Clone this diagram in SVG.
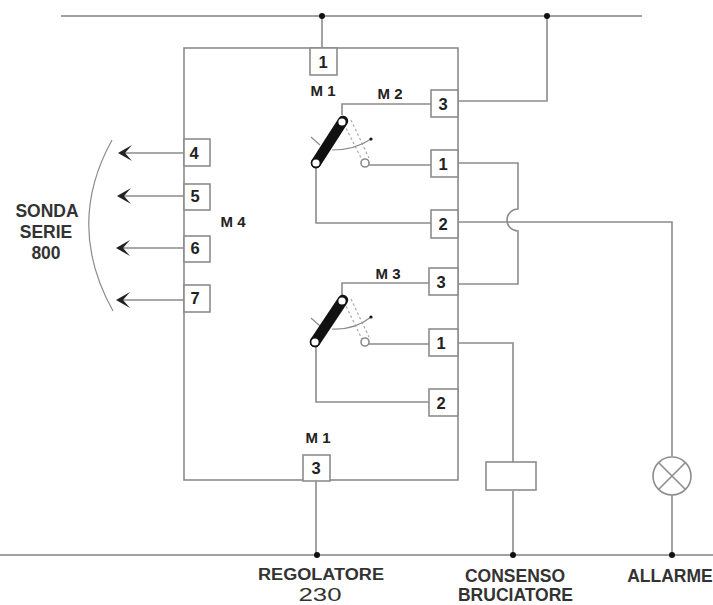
<svg xmlns="http://www.w3.org/2000/svg" width="713" height="605" viewBox="0 0 713 605">
<style>
.w{fill:none;stroke:#8c8c8c;stroke-width:1.6}
.bus{fill:none;stroke:#a0a0a0;stroke-width:2.2}
.thin{fill:none;stroke:#8c8c8c;stroke-width:1.2}
.b{fill:#fff;stroke:#8c8c8c;stroke-width:1.6}
.t{font-family:"Liberation Sans",Arial,sans-serif;font-weight:bold;font-size:17.5px;fill:#333;text-anchor:middle}
.m{font-family:"Liberation Sans",Arial,sans-serif;font-weight:bold;font-size:15px;fill:#222;text-anchor:middle}
.n{font-family:"Liberation Sans",Arial,sans-serif;font-weight:bold;font-size:16.5px;fill:#222;text-anchor:middle}
.d{fill:#111}
.a{fill:#222}
.bar{stroke:#111;stroke-width:10.5;stroke-linecap:round}
.ring{fill:#fff;stroke:#111;stroke-width:1.6}
.hole{fill:#fff}
.da{fill:none;stroke:#aaa;stroke-width:1.2;stroke-dasharray:2.5 2.5}
</style>
<rect width="713" height="605" fill="#fff"/>
<g id="connectors">
<path class="bus" d="M61 16H642M0 555H713"/>
<path class="w" d="M322 16V48M547 16V101H458"/>
<path class="w" d="M342 115V104H431"/>
<path class="w" d="M368 165H431M316 167V223H431"/>
<path class="w" d="M342 296V283H431M368 344H431M316 346V402H431"/>
<path class="w" d="M458 163H518V209A11 11 0 0 0 518 231V284H458"/>
<path class="w" d="M458 222H672V456M672 495V555"/>
<path class="w" d="M458 343H513V462M513 491V555"/>
<path class="w" d="M316 480V555"/>
<path class="w" d="M184 153H122M184 196H121M184 248H120M184 300H120"/>
<path class="a" d="M118 153L132 145L125 153L132 161ZM117 196L131 188L124 196L131 204ZM116 248L130 240L123 248L130 256ZM116 300L130 292L123 300L130 308Z"/>
<path class="thin" d="M112 140Q65 225 113 311"/>
<circle class="d" cx="322" cy="16" r="3"/><circle class="d" cx="547" cy="16" r="3"/>
<circle class="d" cx="317" cy="555" r="3"/><circle class="d" cx="513" cy="555" r="3"/><circle class="d" cx="672" cy="555" r="3"/>
</g>
<g id="housing"><rect class="w" x="184" y="48" width="274" height="432"/></g>
<g id="m1-switch">
<path class="da" d="M344 124L362 160M351 120L369 158"/>
<path class="thin" d="M311 137L320 145M332 150Q355 150 371 139"/>
<circle class="d" cx="371" cy="139" r="1.6"/>
<path class="bar" d="M343 121L316 163"/>
<circle class="hole" cx="342" cy="122" r="3.6"/><circle class="ring" cx="316" cy="163" r="4.4"/>
<circle class="b" cx="365" cy="163" r="4"/>
</g>
<g id="m3-switch">
<path class="da" d="M344 302L362 339M351 299L369 337"/>
<path class="thin" d="M311 318L320 326M332 329Q355 330 371 317"/>
<circle class="d" cx="371" cy="317" r="1.6"/>
<path class="bar" d="M343 300L315 342"/>
<circle class="hole" cx="342" cy="301" r="3.6"/><circle class="ring" cx="315" cy="342" r="4.4"/>
<circle class="b" cx="365" cy="342" r="4"/>
</g>
<g id="t-top1"><rect class="b" x="310" y="48" width="27" height="27"/><text class="n" x="323" y="68">1</text></g>
<g id="t-m2-3"><rect class="b" x="431" y="90" width="27" height="27"/><text class="n" x="443" y="110">3</text></g>
<g id="t-m2-1"><rect class="b" x="431" y="150" width="27" height="27"/><text class="n" x="443" y="170">1</text></g>
<g id="t-m2-2"><rect class="b" x="431" y="210" width="27" height="28"/><text class="n" x="443" y="230">2</text></g>
<g id="t-m3-3"><rect class="b" x="429" y="268" width="29" height="27"/><text class="n" x="441" y="288">3</text></g>
<g id="t-m3-1"><rect class="b" x="429" y="329" width="29" height="27"/><text class="n" x="441" y="349">1</text></g>
<g id="t-m3-2"><rect class="b" x="429" y="389" width="29" height="27"/><text class="n" x="441" y="409">2</text></g>
<g id="t-4"><rect class="b" x="184" y="139" width="26" height="27"/><text class="n" x="194" y="159">4</text></g>
<g id="t-5"><rect class="b" x="184" y="184" width="26" height="26"/><text class="n" x="195" y="202">5</text></g>
<g id="t-6"><rect class="b" x="184" y="236" width="26" height="26"/><text class="n" x="195" y="254">6</text></g>
<g id="t-7"><rect class="b" x="184" y="285" width="26" height="27"/><text class="n" x="195" y="304">7</text></g>
<g id="t-bot3"><rect class="b" x="303" y="455" width="27" height="26"/><text class="n" x="316" y="474">3</text></g>
<g id="relay"><rect class="b" x="486" y="462" width="50" height="28"/></g>
<g id="lamp"><circle class="b" cx="672" cy="476" r="19"/><path class="w" d="M659 463L685 489M685 463L659 489"/></g>
<g id="labels">
<text class="m" x="323" y="96">M 1</text>
<text class="m" x="390" y="99">M 2</text>
<text class="m" x="388" y="279">M 3</text>
<text class="m" x="233" y="227">M 4</text>
<text class="m" x="318" y="443">M 1</text>
<text class="t" x="47" y="217">SONDA</text>
<text class="t" x="46" y="238">SERIE</text>
<text class="t" x="46" y="259">800</text>
<text class="t" x="321" y="580" style="font-size:16px" textLength="126" lengthAdjust="spacingAndGlyphs">REGOLATORE</text>
<text x="320" y="601" font-family="Liberation Sans,sans-serif" font-size="18" textLength="43" lengthAdjust="spacingAndGlyphs" fill="#333" text-anchor="middle">230</text>
<text class="t" x="515" y="582">CONSENSO</text>
<text class="t" x="515.5" y="600.5">BRUCIATORE</text>
<text class="t" x="670" y="582">ALLARME</text>
</g>
</svg>
